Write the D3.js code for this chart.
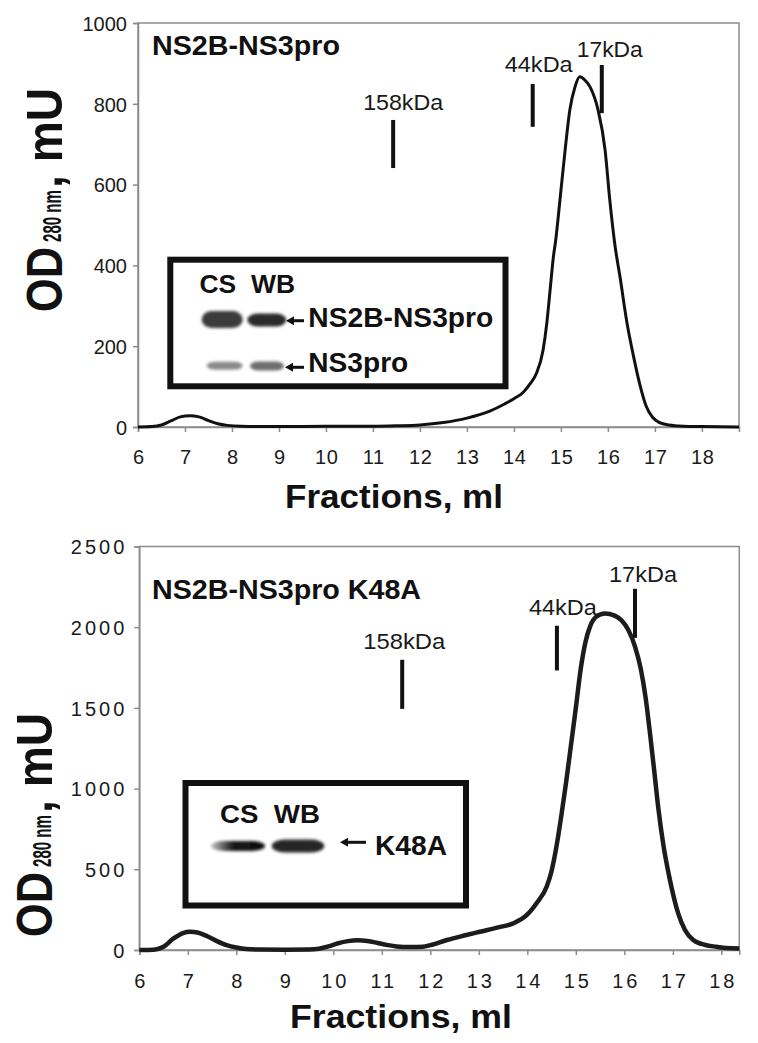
<!DOCTYPE html>
<html><head><meta charset="utf-8">
<script src="https://cdn.jsdelivr.net/npm/d3@7"></script>
<style>
html,body{margin:0;padding:0;background:#fff;}
svg{display:block;font-family:"Liberation Sans",Arial,Helvetica,sans-serif;}
</style></head><body>
<svg id="c" width="758" height="1043"></svg>
<script>
// ---------------- DATA ----------------
const topVolume = [6.0,6.3,6.5,6.7,6.9,7.1,7.3,7.5,7.7,7.9,8.2,9.0,10.0,11.0,11.5,12.0,12.5,13.0,13.5,13.8,14.0,14.2,14.35,14.48,14.62,14.70,14.77,14.84,14.89,14.98,15.09,15.19,15.30,15.40,15.50,15.62,15.79,15.94,16.04,16.15,16.26,16.40,16.54,16.68,16.82,16.95,17.1,17.3,17.6,18.0,18.79];
const topOD     = [0,1,5,15,25,28,25,16,8,4,2,1,2,2,3,5,11,22,40,57,70,86,108,133,190,257,339,421,463,562,686,785,842,867,860,842,785,686,562,450,370,262,178,105,50,24,11,5,2,1,0];

const bottomVolume = [6.0,6.3,6.5,6.7,6.9,7.05,7.2,7.4,7.6,7.8,8.0,8.2,8.5,9.0,9.5,9.7,9.9,10.1,10.3,10.5,10.7,10.9,11.1,11.3,11.6,11.85,12.0,12.34,12.7,13.02,13.4,13.71,13.99,14.19,14.40,14.50,14.60,14.70,14.80,14.90,15.00,15.10,15.20,15.30,15.42,15.60,15.80,15.95,16.08,16.22,16.34,16.44,16.53,16.62,16.70,16.80,16.94,17.11,17.25,17.42,17.67,17.9,18.1,18.37];
const bottomOD     = [0,2,20,70,105,113,108,85,55,30,15,6,3,2,3,8,22,42,55,60,56,45,32,22,18,20,30,62,90,113,140,165,217,290,393,490,640,830,1040,1270,1500,1740,1910,2010,2065,2085,2072,2040,1984,1880,1740,1560,1340,1100,880,660,434,227,124,62,31,20,12,10];

const topXTicks = [6,7,8,9,10,11,12,13,14,15,16,17,18];
const topYTicks = [0,200,400,600,800,1000];
const bottomXTicks = [6,7,8,9,10,11,12,13,14,15,16,17,18];
const bottomYTicks = [0,500,1000,1500,2000,2500];

const markerLabels = ["158kDa","44kDa","17kDa"];
const topMarkerVolume = [11.43,14.40,15.87];
const topMarkerLow    = [641,743,777];
const topMarkerHigh   = [760,849,896];
const bottomMarkerVolume = [11.42,14.61,16.22];
const bottomMarkerLow    = [1494,1732,1934];
const bottomMarkerHigh   = [1798,2009,2238];

const topTitle = "NS2B-NS3pro";
const bottomTitle = "NS2B-NS3pro K48A";
const xAxisTitle = "Fractions, ml";
const insetLanes = "CS  WB";
const topInsetBandLabels = ["NS2B-NS3pro","NS3pro"];
const bottomInsetBandLabels = ["K48A"];

// ---------------- LAYOUT ----------------
const svg = d3.select("#c");
const defs = svg.append("defs");
defs.append("filter").attr("id","blur").attr("x","-30%").attr("y","-60%").attr("width","160%").attr("height","220%")
  .append("feGaussianBlur").attr("stdDeviation",1.4);
const grad = defs.append("linearGradient").attr("id","fadeband").attr("x1","0").attr("x2","1").attr("y1","0").attr("y2","0");
grad.append("stop").attr("offset","0").attr("stop-color","#c4c4c4");
grad.append("stop").attr("offset","0.4").attr("stop-color","#1a1a1a");
grad.append("stop").attr("offset","1").attr("stop-color","#0a0a0a");

const panels = [
  {
    vol: topVolume, od: topOD, xTicks: topXTicks, yTicks: topYTicks,
    mVol: topMarkerVolume, mLow: topMarkerLow, mHigh: topMarkerHigh,
    title: topTitle,
    left:138, right:739, top:23, bottom:427, xDom:[6,18.79], yDom:[0,1000],
    curveW:3, curveColor:"#111",
    yLabelSpacing:0, yLabelFont:20, xLabelFont:20, xLabelSpacing:0.5, xLabelBase:464,
    titleX:152, titleY:55, titleLen:188,
    labelDX:[-30,-28,-25], labelDY:[-10,-12,-8], labelLen:[80,68,66],
    xTitleX:285, xTitleY:508, xTitleLen:218,
    yTitleBase:62, yTitleBottom:312
  },
  {
    vol: bottomVolume, od: bottomOD, xTicks: bottomXTicks, yTicks: bottomYTicks,
    mVol: bottomMarkerVolume, mLow: bottomMarkerLow, mHigh: bottomMarkerHigh,
    title: bottomTitle,
    left:139.3, right:739.3, top:546.5, bottom:950, xDom:[6,18.37], yDom:[0,2500],
    curveW:4.5, curveColor:"#1c1c1c",
    yLabelSpacing:3, yLabelFont:20, xLabelFont:20, xLabelSpacing:3, xLabelBase:988,
    titleX:152, titleY:599, titleLen:269,
    labelDX:[-39,-28,-26], labelDY:[-11,-11,-7], labelLen:[82,68,68],
    xTitleX:290, xTitleY:1028, xTitleLen:222,
    yTitleBase:52, yTitleBottom:937
  }
];

panels.forEach(p => {
  const x = d3.scaleLinear().domain(p.xDom).range([p.left,p.right]);
  const y = d3.scaleLinear().domain(p.yDom).range([p.bottom,p.top]);
  const g = svg.append("g");

  // frame
  g.append("rect").attr("x",p.left).attr("y",p.top).attr("width",p.right-p.left).attr("height",p.bottom-p.top)
    .attr("fill","none").attr("stroke","#8c8c8c").attr("stroke-width",1.5);

  // axes
  const xAxis = g.append("g").attr("transform",`translate(0,${p.bottom})`)
    .call(d3.axisBottom(x).tickValues(p.xTicks).tickSize(5).tickFormat(d3.format("d")));
  const yAxis = g.append("g").attr("transform",`translate(${p.left},0)`)
    .call(d3.axisLeft(y).tickValues(p.yTicks).tickSize(5).tickPadding(p.yLabelSpacing?7:6).tickFormat(d3.format("d")));
  [xAxis,yAxis].forEach(a=>{
    a.select(".domain").attr("stroke","#8c8c8c").attr("stroke-width",1.5);
    a.selectAll(".tick line").attr("stroke","#8c8c8c").attr("stroke-width",1.5);
    a.selectAll("text").attr("fill","#1a1a1a").attr("font-family","'Liberation Sans',Arial,sans-serif");
  });
  xAxis.selectAll("text").attr("font-size",p.xLabelFont).attr("letter-spacing",p.xLabelSpacing)
    .attr("dy",null).attr("y",p.xLabelBase-p.bottom).attr("dx",p.xLabelSpacing/2);
  yAxis.selectAll("text").attr("font-size",p.yLabelFont).attr("letter-spacing",p.yLabelSpacing)
    .attr("dy","0.36em");

  // curve
  const line = d3.line().x((d,i)=>x(p.vol[i])).y((d,i)=>y(p.od[i])).curve(d3.curveMonotoneX);
  g.append("path").attr("d",line(p.od)).attr("fill","none").attr("stroke",p.curveColor)
    .attr("stroke-width",p.curveW).attr("stroke-linejoin","round");

  // markers
  p.mVol.forEach((v,i)=>{
    g.append("line").attr("x1",x(v)).attr("x2",x(v)).attr("y1",y(p.mHigh[i])).attr("y2",y(p.mLow[i]))
      .attr("stroke","#111").attr("stroke-width",4);
    g.append("text").attr("x",x(v)+p.labelDX[i]).attr("y",y(p.mHigh[i])+p.labelDY[i])
      .attr("font-size",21.5).attr("fill","#1a1a1a").attr("textLength",p.labelLen[i])
      .attr("lengthAdjust","spacingAndGlyphs").text(markerLabels[i]);
  });

  // title
  g.append("text").attr("x",p.titleX).attr("y",p.titleY).attr("font-size",28).attr("font-weight","bold")
    .attr("fill","#111").attr("textLength",p.titleLen).attr("lengthAdjust","spacingAndGlyphs").text(p.title);

  // x axis title
  g.append("text").attr("x",p.xTitleX).attr("y",p.xTitleY).attr("font-size",33).attr("font-weight","bold")
    .attr("fill","#111").attr("textLength",p.xTitleLen).attr("lengthAdjust","spacingAndGlyphs").text(xAxisTitle);

  // y axis title (rotated)
  const yt = g.append("g").attr("transform",`translate(${p.yTitleBase},${p.yTitleBottom}) rotate(-90)`)
    .attr("font-weight","bold").attr("fill","#111");
  yt.append("text").attr("x",0).attr("y",0).attr("font-size",50).attr("textLength",65)
    .attr("lengthAdjust","spacingAndGlyphs").text("OD");
  yt.append("text").attr("x",70).attr("y",-1).attr("font-size",26).attr("textLength",52)
    .attr("lengthAdjust","spacingAndGlyphs").text("280 nm");
  yt.append("text").attr("x",124).attr("y",0).attr("font-size",50).attr("textLength",100)
    .attr("lengthAdjust","spacingAndGlyphs").text(", mU");
});

// ---------------- INSETS ----------------
function arrow(g, tipX, tailX, yy, w){
  g.append("line").attr("x1",tipX+6).attr("x2",tailX).attr("y1",yy).attr("y2",yy).attr("stroke","#111").attr("stroke-width",w);
  g.append("path").attr("d",`M${tipX},${yy} L${tipX+8},${yy-4.5} L${tipX+8},${yy+4.5} Z`).attr("fill","#111");
}
function band(g,b){
  g.append("rect").attr("x",b.x).attr("y",b.cy-b.h/2).attr("width",b.w).attr("height",b.h)
    .attr("rx",b.w/4).attr("ry",b.h/2).attr("fill",b.fill).attr("filter","url(#blur)");
}

// top inset
const ti = svg.append("g");
ti.append("rect").attr("x",170.3).attr("y",259.7).attr("width",335.2).attr("height",126.6)
  .attr("fill","#fff").attr("stroke","#111").attr("stroke-width",6);
ti.append("text").attr("x",199.5).attr("y",292.7).attr("font-size",26).attr("font-weight","bold").attr("fill","#111")
  .attr("textLength",95.5).attr("lengthAdjust","spacingAndGlyphs").attr("xml:space","preserve").text(insetLanes);
[{x:201.7,w:41,cy:319.5,h:17,fill:"#3a3a3a"},{x:247.3,w:39,cy:320,h:13,fill:"#2c2c2c"},
 {x:206.7,w:36,cy:365.7,h:8,fill:"#8a8a8a"},{x:250,w:34,cy:366,h:9,fill:"#6e6e6e"}].forEach(b=>band(ti,b));
arrow(ti,286,304,320.7,3);
arrow(ti,285,304,367.3,3);
ti.append("text").attr("x",308.3).attr("y",327.3).attr("font-size",27).attr("font-weight","bold").attr("fill","#111")
  .attr("textLength",185).attr("lengthAdjust","spacingAndGlyphs").text(topInsetBandLabels[0]);
ti.append("text").attr("x",308.3).attr("y",371.7).attr("font-size",27).attr("font-weight","bold").attr("fill","#111")
  .attr("textLength",100).attr("lengthAdjust","spacingAndGlyphs").text(topInsetBandLabels[1]);

// bottom inset
const bi = svg.append("g");
bi.append("rect").attr("x",185.5).attr("y",783).attr("width",280.5).attr("height",122.5)
  .attr("fill","#fff").attr("stroke","#111").attr("stroke-width",6);
bi.append("text").attr("x",220).attr("y",823.3).attr("font-size",26).attr("font-weight","bold").attr("fill","#111")
  .attr("textLength",100).attr("lengthAdjust","spacingAndGlyphs").attr("xml:space","preserve").text(insetLanes);
[{x:211,w:54,cy:846,h:10,fill:"url(#fadeband)"},{x:271.7,w:52.6,cy:846,h:13,fill:"#262626"}].forEach(b=>band(bi,b));
arrow(bi,340,366,842.3,3);
bi.append("text").attr("x",375).attr("y",855).attr("font-size",28).attr("font-weight","bold").attr("fill","#111")
  .attr("textLength",72).attr("lengthAdjust","spacingAndGlyphs").text(bottomInsetBandLabels[0]);
</script>
</body></html>
